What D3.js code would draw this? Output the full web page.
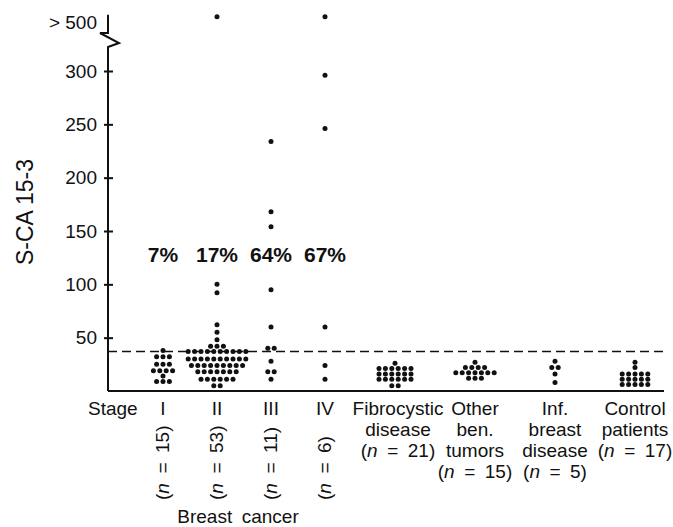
<!DOCTYPE html>
<html>
<head>
<meta charset="utf-8">
<script src="https://cdn.jsdelivr.net/npm/d3@7"></script>
<style>
    body { margin: 0; background: #fff; }
    text { font-family: "Liberation Sans", Arial, Helvetica, sans-serif; fill: #111; }
</style>
</head>
<body>
<div id="chart"></div>
<script>
// values; 540 stands for "> 500"
var stageNames = ["I", "II", "III", "IV"];
var stageN = [15, 53, 11, 6];
var stagePercent = ["7%", "17%", "64%", "67%"];
var stageIValues = [38, 32, 32, 32, 25, 25, 25, 19, 19, 19, 19, 14, 9, 9, 9];
var stageIIValues = [540, 100, 92, 62, 55, 48, 42, 42, 42,
    37, 37, 37, 37, 37, 37, 37, 37, 37, 37,
    30, 30, 30, 30, 30, 30, 30, 30, 30, 30,
    24, 24, 24, 24, 24, 24, 24, 24, 24,
    18, 18, 18, 18, 18, 18, 18,
    11, 11, 11, 11, 11, 11,
    5, 5];
var stageIIIValues = [234, 168, 154, 95, 60, 40, 40, 28, 18, 18, 11];
var stageIVValues = [540, 296, 246, 60, 24, 11];
var fibroValues = [26, 21, 21, 21, 21, 21, 21, 16, 16, 16, 16, 16, 16, 11, 11, 11, 11, 11, 11, 5, 5];
var benignValues = [27, 22, 22, 22, 22, 17, 17, 17, 17, 17, 17, 17, 12, 12, 12];
var infValues = [28, 22, 22, 16, 8];
var controlValues = [27, 22, 16, 16, 16, 16, 16, 11, 11, 11, 11, 11, 6, 6, 6, 6, 6];
var otherNames = [["Fibrocystic", "disease"], ["Other", "ben.", "tumors"], ["Inf.", "breast", "disease"], ["Control", "patients"]];
var otherN = [21, 15, 5, 17];
var yTickValues = [50, 100, 150, 200, 250, 300];
var overLabel = "> 500";
var cutoffValue = 37;

var width = 673, height = 527;
var fontSize = 19;

var svg = d3.select("#chart")
    .append("svg")
    .attr("width", width)
    .attr("height", height);

var y = d3.scaleLinear().domain([0, 300]).range([391, 71]);
var yOver = d3.scaleLinear().domain([500, 560]).range([22, 14]);
var yPos = function (v) { return v >= 500 ? yOver(v) : y(v); };

var xStage = d3.scalePoint().domain(stageNames).range([163, 325]);
var xOther = d3.scalePoint().domain(d3.range(otherNames.length)).range([395, 635]);
var axisX = 108, rightEnd = 664;

var groups = [
    { x: xStage("I"), values: stageIValues },
    { x: xStage("II"), values: stageIIValues },
    { x: xStage("III"), values: stageIIIValues },
    { x: xStage("IV"), values: stageIVValues },
    { x: xOther(0), values: fibroValues },
    { x: xOther(1), values: benignValues },
    { x: xOther(2), values: infValues },
    { x: xOther(3), values: controlValues }
];

// spread equal values side by side
var dotData = [];
groups.forEach(function (g) {
    d3.group(g.values, function (v) { return v; }).forEach(function (row, v) {
        for (var i = 0; i < row.length; i++) {
            dotData.push({ x: g.x + (i - (row.length - 1) / 2) * 6.4, y: yPos(v) });
        }
    });
});

// y axis with break
var yAxis = d3.axisLeft(y).tickValues(yTickValues).tickSizeInner(4).tickSizeOuter(0).tickPadding(7);
var gAxis = svg.append("g")
    .attr("transform", "translate(" + axisX + ",0)")
    .call(yAxis);
gAxis.select(".domain").remove();
gAxis.attr("font-size", 19).attr("font-family", null);
gAxis.selectAll(".tick line").attr("x1", 5).attr("x2", -4).attr("stroke", "#111").attr("stroke-width", 2);
gAxis.selectAll(".tick text").attr("fill", "#111");

var breakTop = y(322.5);
svg.append("path")
    .attr("d", d3.line()([[axisX, y(0)], [axisX, breakTop], [axisX + 11, breakTop - 4], [axisX - 8, breakTop - 14],
        [axisX, breakTop - 14], [axisX, yOver(555)]]))
    .attr("fill", "none")
    .attr("stroke", "#111")
    .attr("stroke-width", 2);

svg.append("text")
    .attr("x", axisX - 11)
    .attr("y", yOver(500))
    .attr("dy", "0.35em")
    .attr("text-anchor", "end")
    .style("font-size", "19px")
    .text(overLabel);

// baseline and cutoff
svg.append("line")
    .attr("x1", axisX).attr("x2", rightEnd)
    .attr("y1", y(0)).attr("y2", y(0))
    .attr("stroke", "#111").attr("stroke-width", 2);

svg.append("line")
    .attr("x1", axisX).attr("x2", rightEnd)
    .attr("y1", y(cutoffValue)).attr("y2", y(cutoffValue))
    .attr("stroke", "#111").attr("stroke-width", 1.6)
    .attr("stroke-dasharray", "9,5");

svg.selectAll(".dot")
    .data(dotData)
    .enter()
    .append("circle")
    .attr("class", "dot")
    .attr("cx", function (d) { return d.x; })
    .attr("cy", function (d) { return d.y; })
    .attr("r", 2.5)
    .attr("fill", "#111");

// percentages above the cutoff
svg.selectAll(".pct")
    .data(stagePercent)
    .enter()
    .append("text")
    .attr("class", "pct")
    .attr("x", function (d, i) { return xStage(stageNames[i]); })
    .attr("y", 262)
    .attr("text-anchor", "middle")
    .style("font-size", "21px")
    .style("font-weight", "bold")
    .text(function (d) { return d; });

// y title
svg.append("text")
    .attr("transform", "translate(33,212) rotate(-90)")
    .attr("text-anchor", "middle")
    .style("font-size", "23px")
    .text("S-CA 15-3");

// category labels
var rowY = 415, lineH = 21;
svg.append("text")
    .attr("x", 88).attr("y", rowY)
    .style("font-size", fontSize + "px")
    .text("Stage");

svg.selectAll(".stage")
    .data(stageNames)
    .enter()
    .append("text")
    .attr("class", "stage")
    .attr("x", function (d) { return xStage(d); })
    .attr("y", rowY)
    .attr("text-anchor", "middle")
    .style("font-size", fontSize + "px")
    .text(function (d) { return d; });

var nLabel = function (sel, n) {
    sel.append("tspan").text("(");
    sel.append("tspan").style("font-style", "italic").text("n");
    sel.append("tspan").text("\u2002=\u2002" + n + ")");
};

stageNames.forEach(function (s, i) {
    svg.append("text")
        .attr("transform", "translate(" + (xStage(s) + 6) + ",500) rotate(-90)")
        .style("font-size", fontSize + "px")
        .call(nLabel, stageN[i]);
});

otherNames.forEach(function (lines, i) {
    var cx = xOther(i) + (i == 0 ? 3 : 0);
    lines.forEach(function (t, j) {
        svg.append("text")
            .attr("x", cx).attr("y", rowY + j * lineH)
            .attr("text-anchor", "middle")
            .style("font-size", fontSize + "px")
            .text(t);
    });
    svg.append("text")
        .attr("x", cx).attr("y", rowY + lines.length * lineH)
        .attr("text-anchor", "middle")
        .style("font-size", fontSize + "px")
        .call(nLabel, otherN[i]);
});

svg.append("text")
    .attr("x", (xStage("II") + xStage("III")) / 2 - 6)
    .attr("y", 523)
    .attr("text-anchor", "middle")
    .style("font-size", fontSize + "px")
    .text("Breast\u2002cancer");
</script>
</body>
</html>
